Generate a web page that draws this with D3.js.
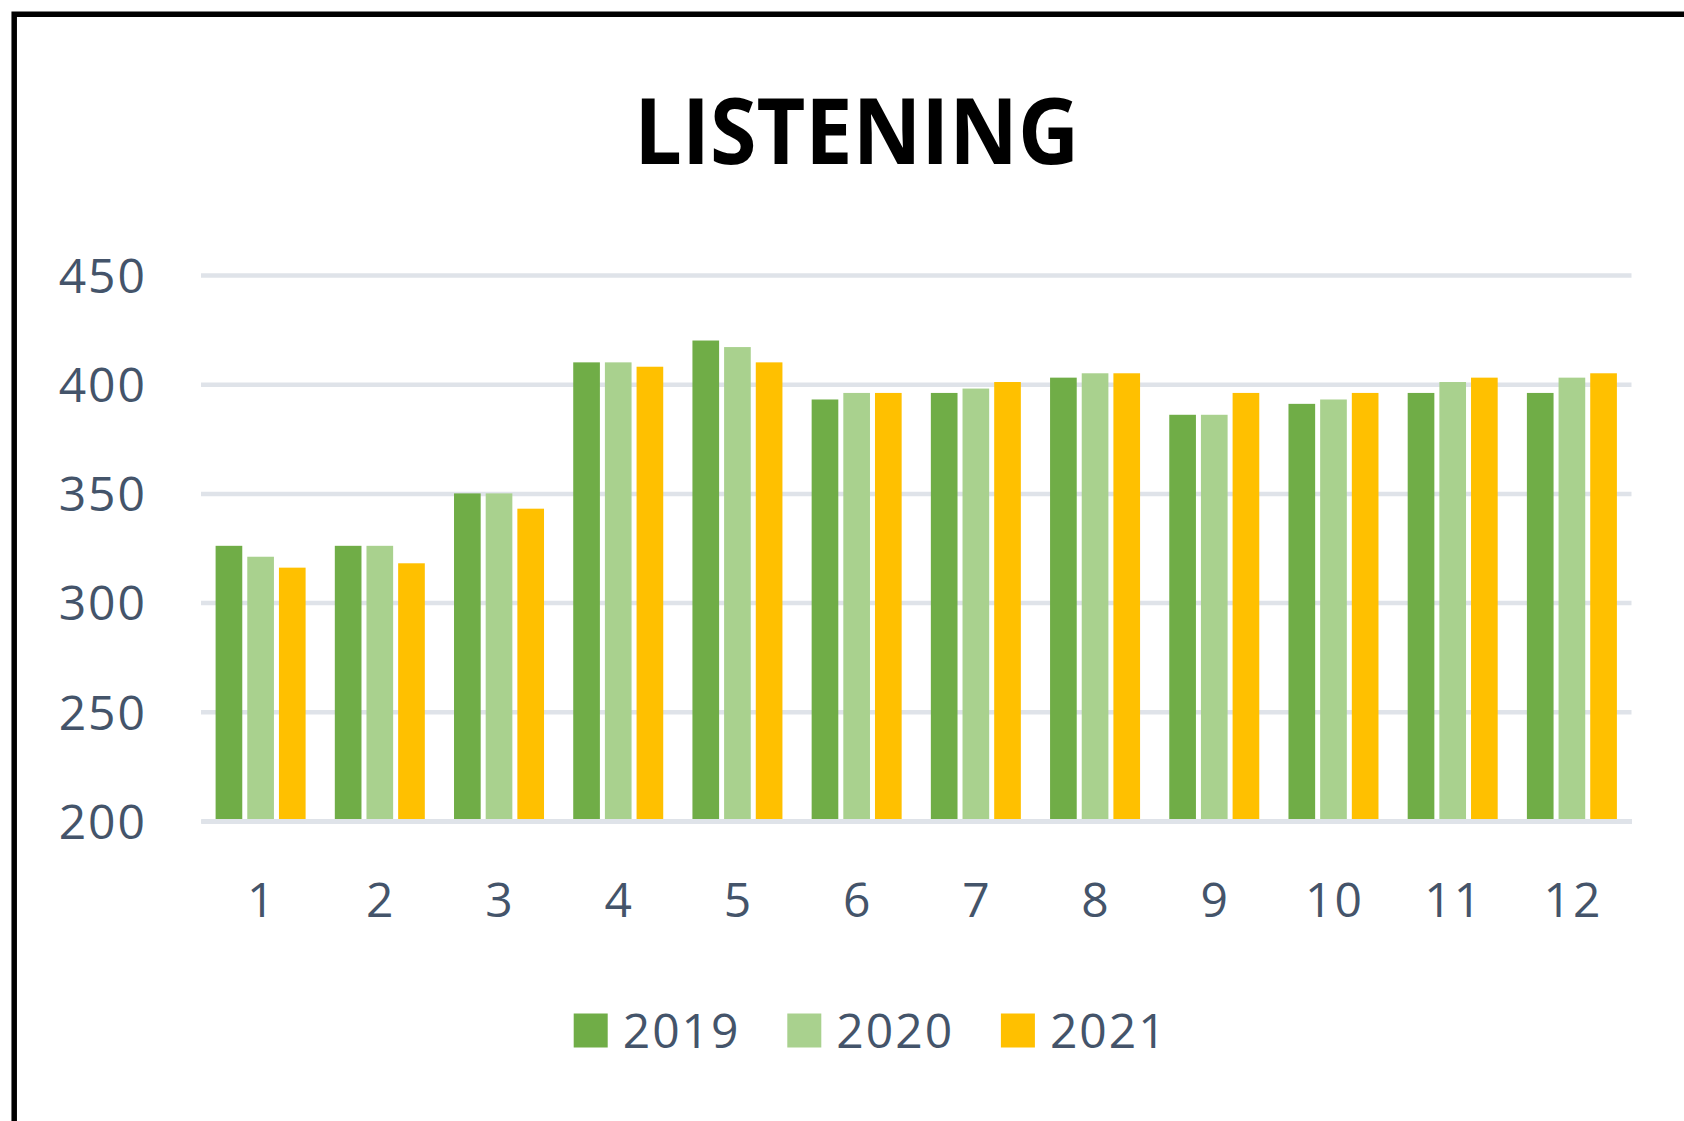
<!DOCTYPE html>
<html>
<head>
<meta charset="utf-8">
<script src="https://cdn.jsdelivr.net/npm/d3@7/dist/d3.min.js"></script>
<style>
  html, body { margin: 0; padding: 0; background: #fff; }
  svg { display: block; }
  text { font-family: 'Open Sans', 'Noto Sans', sans-serif; }
</style>
</head>
<body>
<div id="chart"></div>
<script>
// values
var months = ['1', '2', '3', '4', '5', '6', '7', '8', '9', '10', '11', '12']
var years = ['2019', '2020', '2021']
var y2019 = [326, 326, 350, 410, 420, 393, 396, 403, 386, 391, 396, 396]
var y2020 = [321, 326, 350, 410, 417, 396, 398, 405, 386, 393, 401, 403]
var y2021 = [316, 318, 343, 408, 410, 396, 401, 405, 396, 396, 403, 405]
var yTicks = [200, 250, 300, 350, 400, 450]

var width = 1684
var height = 1121
var plot = { left: 201, right: 1631.5, top: 275, bottom: 821 }
var textColor = '#44546a'
var gridColor = '#dfe3e9'

var colorScale = d3.scaleOrdinal()
  .domain(years)
  .range(['#70ad47', '#a9d18e', '#ffc000'])

var seriesByYear = { '2019': y2019, '2020': y2020, '2021': y2021 }

// one row per month, one entry per year
var datapoints = months.map(function(m, i) {
  return {
    month: m,
    values: years.map(function(yr) {
      return { year: yr, value: seriesByYear[yr][i] }
    })
  }
})

var svg = d3.select('#chart')
  .append('svg')
  .attr('width', width)
  .attr('height', height)

svg.append('rect')
  .attr('width', width)
  .attr('height', height)
  .attr('fill', '#fff')

// chart frame (only top and left edges show)
svg.append('path')
  .attr('d', 'M14.2,' + height + 'V14.2H' + width)
  .attr('fill', 'none')
  .attr('stroke', '#000')
  .attr('stroke-width', 5.5)

// Title
svg.append('text')
  .attr('x', 856.7)
  .attr('y', 164)
  .attr('text-anchor', 'middle')
  .attr('font-size', 92)
  .attr('font-weight', 700)
  .attr('fill', '#000')
  .attr('textLength', 445)
  .attr('lengthAdjust', 'spacingAndGlyphs')
  .text('LISTENING')

// Scales
var xPositionScale = d3.scaleBand()
  .domain(months)
  .range([plot.left, plot.right])
  .paddingInner(0.245)
  .paddingOuter(0.1225)

var xYearScale = d3.scaleBand()
  .domain(years)
  .range([0, xPositionScale.bandwidth()])
  .paddingInner(0.158)

var yPositionScale = d3.scaleLinear()
  .domain([200, 450])
  .range([plot.bottom, plot.top])

// Y axis with gridlines
var yAxis = d3.axisLeft(yPositionScale)
  .tickValues(yTicks)
  .tickSize(-(plot.right - plot.left))
  .tickPadding(54)
  .tickFormat(d3.format('d'))

var yG = svg.append('g')
  .attr('transform', 'translate(' + plot.left + ',0)')
  .call(yAxis)

yG.select('.domain').remove()
yG.selectAll('.tick line')
  .attr('stroke', gridColor)
  .attr('stroke-width', 4.5)
yG.selectAll('.tick text')
  .attr('fill', textColor)
  .attr('font-size', 48)
  .attr('letter-spacing', 2)
  .attr('dy', '0.36em')

// Bars
var groups = svg.selectAll('.month-group')
  .data(datapoints)
  .enter()
  .append('g')
  .attr('class', 'month-group')
  .attr('transform', function(d) {
    return 'translate(' + xPositionScale(d.month) + ',0)'
  })

groups.selectAll('rect')
  .data(d => d.values)
  .enter()
  .append('rect')
  .attr('x', d => xYearScale(d.year))
  .attr('width', xYearScale.bandwidth())
  .attr('y', d => yPositionScale(d.value))
  .attr('height', d => yPositionScale(200) - yPositionScale(d.value))
  .attr('fill', d => colorScale(d.year))

// X axis (its line sits over the bar bottoms)
var xAxis = d3.axisBottom(xPositionScale)
  .tickSize(0)
  .tickSizeOuter(0)

var xG = svg.append('g')
  .attr('transform', 'translate(0,' + plot.bottom + ')')
  .call(xAxis)

xG.select('.domain')
  .attr('stroke', gridColor)
  .attr('stroke-width', 5)
xG.selectAll('.tick text')
  .attr('fill', textColor)
  .attr('font-size', 48)
  .attr('letter-spacing', 2)
  .attr('x', 1)
  .attr('y', 96)
  .attr('dy', 0)

// Legend
var legend = svg.selectAll('.legend-item')
  .data(years)
  .enter()
  .append('g')
  .attr('class', 'legend-item')
  .attr('transform', function(d, i) {
    return 'translate(' + (573.7 + i * 213.6) + ',1013.5)'
  })

legend.append('rect')
  .attr('width', 34)
  .attr('height', 34)
  .attr('fill', d => colorScale(d))

legend.append('text')
  .attr('x', 49)
  .attr('y', 34.5)
  .attr('font-size', 48)
  .attr('letter-spacing', 2)
  .attr('fill', textColor)
  .text(d => d)
</script>
</body>
</html>
